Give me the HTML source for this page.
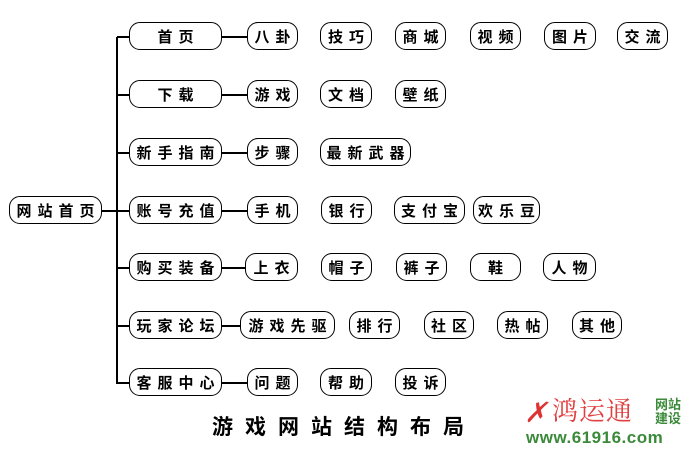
<!DOCTYPE html>
<html><head><meta charset="utf-8"><style>
html,body{margin:0;padding:0;background:#fff;}
#c{position:relative;width:700px;height:459px;overflow:hidden;font-family:"Liberation Sans","Noto Sans CJK SC",sans-serif;}
.b{position:absolute;height:26px;border:1.5px solid #000;border-radius:11px;box-sizing:content-box;display:flex;align-items:center;justify-content:center;font-weight:bold;font-size:15px;letter-spacing:6px;text-indent:6px;color:#000;white-space:nowrap;background:#fff;}
.h{position:absolute;height:1.5px;background:#000;}
.v{position:absolute;width:1.5px;background:#000;}
</style></head><body><div id="c">
<div class="v" style="left:116px;top:37px;height:347px"></div>
<div class="h" style="left:102px;top:210px;width:28px"></div>
<div class="b" style="left:9px;top:196px;width:91px">网站首页</div>
<div class="h" style="left:117px;top:36px;width:13px"></div>
<div class="h" style="left:117px;top:94px;width:13px"></div>
<div class="h" style="left:117px;top:152px;width:13px"></div>
<div class="h" style="left:117px;top:267px;width:13px"></div>
<div class="h" style="left:117px;top:325px;width:13px"></div>
<div class="h" style="left:117px;top:382px;width:13px"></div>
<div class="h" style="left:222px;top:36px;width:26px"></div>
<div class="h" style="left:222px;top:94px;width:26px"></div>
<div class="h" style="left:222px;top:152px;width:26px"></div>
<div class="h" style="left:222px;top:210px;width:26px"></div>
<div class="h" style="left:222px;top:267px;width:24px"></div>
<div class="h" style="left:222px;top:325px;width:19px"></div>
<div class="h" style="left:222px;top:382px;width:26px"></div>
<div class="b" style="left:129px;top:22px;width:91px">首页</div>
<div class="b" style="left:129px;top:80px;width:91px">下载</div>
<div class="b" style="left:129px;top:138px;width:91px">新手指南</div>
<div class="b" style="left:129px;top:196px;width:91px">账号充值</div>
<div class="b" style="left:129px;top:253px;width:91px">购买装备</div>
<div class="b" style="left:129px;top:311px;width:91px">玩家论坛</div>
<div class="b" style="left:129px;top:368px;width:91px">客服中心</div>
<div class="b" style="left:247px;top:22px;width:49px">八卦</div>
<div class="b" style="left:320px;top:22px;width:50px">技巧</div>
<div class="b" style="left:395px;top:22px;width:49px">商城</div>
<div class="b" style="left:470px;top:22px;width:49px">视频</div>
<div class="b" style="left:544px;top:22px;width:50px">图片</div>
<div class="b" style="left:617px;top:22px;width:49px">交流</div>
<div class="b" style="left:247px;top:80px;width:49px">游戏</div>
<div class="b" style="left:320px;top:80px;width:50px">文档</div>
<div class="b" style="left:395px;top:80px;width:49px">壁纸</div>
<div class="b" style="left:247px;top:138px;width:49px">步骤</div>
<div class="b" style="left:320px;top:138px;width:89px">最新武器</div>
<div class="b" style="left:247px;top:196px;width:49px">手机</div>
<div class="b" style="left:321px;top:196px;width:49px">银行</div>
<div class="b" style="left:394px;top:196px;width:69px">支付宝</div>
<div class="b" style="left:473px;top:196px;width:65px">欢乐豆</div>
<div class="b" style="left:245px;top:253px;width:51px">上衣</div>
<div class="b" style="left:321px;top:253px;width:49px">帽子</div>
<div class="b" style="left:396px;top:253px;width:49px">裤子</div>
<div class="b" style="left:470px;top:253px;width:49px">鞋</div>
<div class="b" style="left:543px;top:253px;width:51px">人物</div>
<div class="b" style="left:240px;top:311px;width:93px">游戏先驱</div>
<div class="b" style="left:349px;top:311px;width:49px">排行</div>
<div class="b" style="left:424px;top:311px;width:48px">社区</div>
<div class="b" style="left:497px;top:311px;width:49px">热帖</div>
<div class="b" style="left:572px;top:311px;width:48px">其他</div>
<div class="b" style="left:247px;top:368px;width:49px">问题</div>
<div class="b" style="left:320px;top:368px;width:50px">帮助</div>
<div class="b" style="left:395px;top:368px;width:49px">投诉</div>
<div style="position:absolute;left:212px;top:411px;font-weight:bold;font-size:21px;letter-spacing:12px;white-space:nowrap">游戏网站结构布局</div>
<div style="position:absolute;left:524px;top:396px;color:#d33;font-size:28px;font-family:'Noto Serif CJK SC',serif;font-style:italic;line-height:30px">✗</div>
<div style="position:absolute;left:552px;top:395px;color:#e04040;font-size:26px;line-height:30px;font-family:'Noto Serif CJK SC',serif;letter-spacing:1px">鸿运通</div>
<div style="position:absolute;left:655px;top:398px;color:#3a8a3a;font-size:13px;font-weight:bold;line-height:14px">网站<br>建设</div>
<div style="position:absolute;left:526px;top:428px;color:#3a8a3a;font-size:17px;font-weight:bold;letter-spacing:0.5px">www.61916.com</div>
</div></body></html>
